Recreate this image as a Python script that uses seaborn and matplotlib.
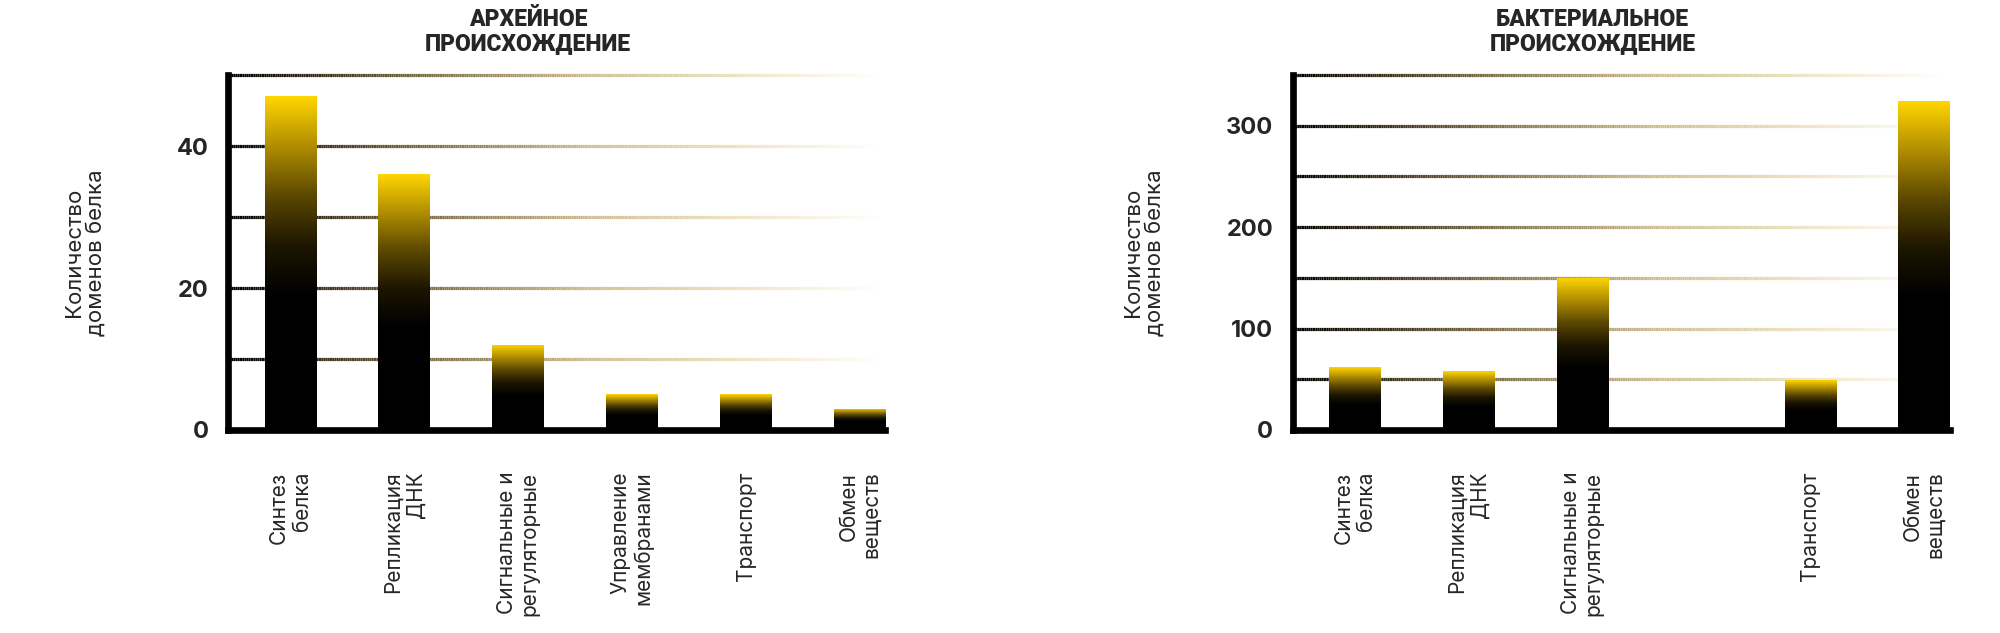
import numpy as np
import pandas as pd
import matplotlib
matplotlib.use("Agg")
import matplotlib.pyplot as plt
from matplotlib.colors import LinearSegmentedColormap
from matplotlib.collections import LineCollection
import seaborn as sns

# ---------------- data ----------------
categories = ["Синтез\nбелка", "Репликация\nДНК", "Сигнальные и\nрегуляторные",
              "Управление\nмембранами", "Транспорт", "Обмен\nвеществ"]
archaea_values = [47, 36, 12, 5, 5, 3]
bacteria_values = [62, 58, 150, np.nan, 49, 324]

archaea_title = "АРХЕЙНОЕ\nПРОИСХОЖДЕНИЕ"
bacteria_title = "БАКТЕРИАЛЬНОЕ\nПРОИСХОЖДЕНИЕ"
y_label = "Количество\nдоменов белка"

archaea_yticks = [0, 20, 40]
archaea_grid = [10, 20, 30, 40, 50]
archaea_ymax = 50
bacteria_yticks = [0, 100, 200, 300]
bacteria_grid = [50, 100, 150, 200, 250, 300, 350]
bacteria_ymax = 350

# ---------------- style ----------------
sns.set_style("white")
plt.rcParams["font.family"] = ["Inter", "Open Sans", "DejaVu Sans"]
TITLE_FONT = ["Liberation Sans Narrow", "Roboto", "DejaVu Sans"]

grid_cmap = LinearSegmentedColormap.from_list(
    "gridfade",
    [(0.0, "#000000"), (0.07, "#1c160a"), (0.3, "#7d6d45"), (0.55, "#cdbd8e"),
     (0.8, "#efe4c4"), (0.92, "#faf5e8"), (1.0, "#ffffff")])
bar_cmap = LinearSegmentedColormap.from_list(
    "bargold",
    [(0.0, "#000000"), (0.4, "#000000"), (0.55, "#1c1500"), (0.7, "#5a4700"),
     (0.85, "#b08d00"), (1.0, "#ffd500")])

fig = plt.figure(figsize=(20, 6.33), dpi=100)
ax1 = fig.add_axes([0.1142, 0.3207, 0.3285, 0.5608])
ax2 = fig.add_axes([0.6463, 0.3207, 0.3287, 0.5608])

XLIM = (-0.544, 5.226)
BAR_W = 0.453


def draw_panel(ax, values, title, yticks, grid, ymax, ylab_x):
    df = pd.DataFrame({"cat": categories, "val": values})
    sns.barplot(data=df, x="cat", y="val", order=categories, ax=ax,
                width=BAR_W, color="black", zorder=2)
    ax.set_xlim(*XLIM)
    ax.set_ylim(0, ymax)

    # gradient grid lines
    xs = np.linspace(XLIM[0], XLIM[1], 300)
    for gy in grid:
        segs = [[(xs[i], gy), (xs[i + 1], gy)] for i in range(len(xs) - 1)]
        cols = grid_cmap(np.linspace(0, 1, len(segs)))
        lc = LineCollection(segs, colors=cols, linewidths=2.3, zorder=1,
                            clip_on=False, capstyle="butt")
        ax.add_collection(lc)

    # gradient bars
    grad = np.linspace(0, 1, 256).reshape(-1, 1)
    for p in list(ax.patches):
        h = p.get_height()
        if not np.isfinite(h) or h <= 0:
            continue
        x0, y0, w = p.get_x(), p.get_y(), p.get_width()
        im = ax.imshow(grad, extent=[x0, x0 + w, y0, y0 + h], origin="lower",
                       aspect="auto", cmap=bar_cmap, zorder=2,
                       interpolation="bilinear")
        im.set_clip_path(p)
        p.set_facecolor("none")
        p.set_edgecolor("none")
    ax.set_xlim(*XLIM)
    ax.set_ylim(0, ymax)

    # spines
    for s in ["top", "right"]:
        ax.spines[s].set_visible(False)
    for s in ["left", "bottom"]:
        ax.spines[s].set_visible(True)
        ax.spines[s].set_color("black")
        ax.spines[s].set_linewidth(4.8)
        ax.spines[s].set_zorder(5)
        ax.spines[s].set_capstyle("projecting")

    ax.set_yticks(yticks)
    ax.set_yticklabels([str(v) for v in yticks], fontsize=17, fontweight="bold")
    ax.tick_params(axis="y", length=0, pad=14)

    labels = [c if np.isfinite(v) else "" for c, v in zip(categories, values)]
    ax.set_xticks(range(len(categories)))
    ax.set_xticklabels(labels, rotation=90, va="top", ha="center",
                       multialignment="right", fontsize=15, linespacing=1.15)
    ax.tick_params(axis="x", length=0, pad=30)
    ax.set_xlabel("")

    ax.set_ylabel(y_label, fontsize=16, linespacing=1.15)
    ax.yaxis.set_label_coords(ylab_x, 0.5)

    ax.set_title(title, family=TITLE_FONT, fontweight=900, fontsize=16.5,
                 linespacing=1.05, x=0.456, pad=18)
    ax.grid(False)


draw_panel(ax1, archaea_values, archaea_title, archaea_yticks, archaea_grid,
           archaea_ymax, -0.186)
draw_panel(ax2, bacteria_values, bacteria_title, bacteria_yticks, bacteria_grid,
           bacteria_ymax, -0.194)

fig.savefig("out.png", dpi=100, facecolor="white")
